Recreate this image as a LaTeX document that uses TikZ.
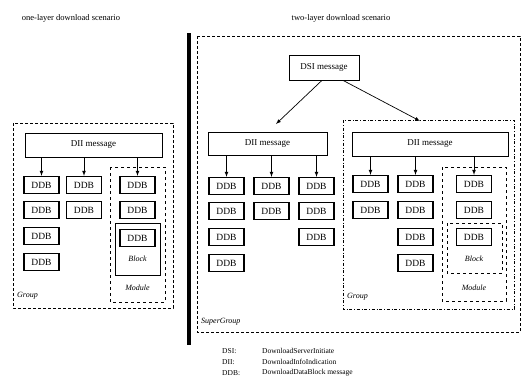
\documentclass[tikz,border=0pt]{standalone}
\usepackage{fontspec}
\setmainfont{Liberation Serif}
\usetikzlibrary{calc}

\begin{document}
\begin{tikzpicture}[x=1pt,y=-1pt,
    ddb/.style={draw,line width=1.3pt,minimum width=35pt,minimum height=17pt,inner sep=0pt,font=\fontsize{9.5}{10}\selectfont},
    msg/.style={draw,line width=0.9pt,inner sep=0pt,font=\fontsize{9}{10}\selectfont},
    tag/.style={inner sep=0pt,font=\fontsize{8}{9}\selectfont\itshape},
    legend/.style={inner sep=0pt,anchor=west,font=\fontsize{7.5}{8}\selectfont},
    title/.style={inner sep=0pt,font=\fontsize{8.5}{9}\selectfont},
    arr/.style={-latex,line width=0.7pt}]
    \useasboundingbox (0,0) rectangle (522,381);
    % titles and separator
    \node[title] (t1) at (71,18) {one-layer download scenario};
    \node[title] (t2) at (341,18) {two-layer download scenario};
    \fill[black] (187,33) rectangle (190.5,345);
    % one-layer scenario
    \draw[line width=0.5pt,densely dashed] (13,123) rectangle (173,308);
    \draw[line width=0.5pt,dashed] (110,167) rectangle (165,302);
    \draw[line width=0.5pt] (115,223) rectangle (160,275);
    \node[msg,minimum width=137pt,minimum height=24pt] (dii1) at (93.5,145) {DII message};
    \node[ddb] (a11) at (41.5,185) {DDB};
    \node[ddb] (a12) at (41.5,210) {DDB};
    \node[ddb] (a13) at (41.5,236) {DDB};
    \node[ddb] (a14) at (41.5,262) {DDB};
    \node[ddb] (a21) at (84,185) {DDB};
    \node[ddb] (a22) at (84,210) {DDB};
    \node[ddb] (a31) at (137.5,185) {DDB};
    \node[ddb] (a32) at (137.5,210) {DDB};
    \node[ddb] (a33) at (137.5,238) {DDB};
    \draw[arr] (dii1.south -| a11.north) -- (a11.north);
    \draw[arr] (dii1.south -| a21.north) -- (a21.north);
    \draw[arr] (dii1.south -| a31.north) -- (a31.north);
    \node[tag] (blk1) at (137.5,259) {Block};
    \node[tag] (mod1) at (137.5,288) {Module};
    \node[tag,anchor=west] (grp1) at (17,296) {Group};
    % two-layer scenario
    \draw[line width=0.5pt,densely dashed] (197,36) rectangle (520,332);
    \draw[line width=0.5pt,dash dot] (343,120) rectangle (514,309);
    \draw[line width=0.5pt,dashed] (442,167) rectangle (506,301);
    \draw[line width=0.5pt,dashed] (447,223) rectangle (502,273);
    \node[msg,minimum width=70pt,minimum height=25pt] (dsi) at (324,67.5) {DSI message};
    \node[msg,minimum width=119pt,minimum height=23pt] (dii2) at (267.5,143.5) {DII message};
    \node[msg,minimum width=156pt,minimum height=24pt] (dii3) at (430,144) {DII message};
    \coordinate (in2) at (276,124);
    \coordinate (in3) at (420,121);
    \draw[arr] ($(dsi.south west)!0.47!(dsi.south east)$) -- (in2);
    \draw[arr] ($(dsi.south west)!0.77!(dsi.south east)$) -- (in3);
    \node[ddb] (b11) at (226.5,186) {DDB};
    \node[ddb] (b12) at (226.5,211) {DDB};
    \node[ddb] (b13) at (226.5,237) {DDB};
    \node[ddb] (b14) at (226.5,263) {DDB};
    \node[ddb] (b21) at (271.5,186) {DDB};
    \node[ddb] (b22) at (271.5,211) {DDB};
    \node[ddb] (b31) at (316.5,186) {DDB};
    \node[ddb] (b32) at (316.5,211) {DDB};
    \node[ddb] (b33) at (316.5,237) {DDB};
    \draw[arr] (dii2.south -| b11.north) -- (b11.north);
    \draw[arr] (dii2.south -| b21.north) -- (b21.north);
    \draw[arr] (dii2.south -| b31.north) -- (b31.north);
    \node[ddb] (c11) at (370.5,184) {DDB};
    \node[ddb] (c12) at (370.5,210) {DDB};
    \node[ddb] (c21) at (415.5,184) {DDB};
    \node[ddb] (c22) at (415.5,210) {DDB};
    \node[ddb] (c23) at (415.5,237) {DDB};
    \node[ddb] (c24) at (415.5,263) {DDB};
    \node[ddb] (c31) at (474,184) {DDB};
    \node[ddb] (c32) at (474,210) {DDB};
    \node[ddb] (c33) at (474,237) {DDB};
    \draw[arr] (dii3.south -| c11.north) -- (c11.north);
    \draw[arr] (dii3.south -| c21.north) -- (c21.north);
    \draw[arr] (dii3.south -| c31.north) -- (c31.north);
    \node[tag] (blk2) at (474,259) {Block};
    \node[tag] (mod2) at (474,288) {Module};
    \node[tag,anchor=west] (grp2) at (347,297) {Group};
    \node[tag,anchor=west] (sgrp) at (201,322) {SuperGroup};
    % legend
    \node[legend] (k1) at (222,351) {DSI:};
    \node[legend] (k2) at (222,362) {DII:};
    \node[legend] (k3) at (222,373) {DDB:};
    \node[legend] (v1) at (262,351) {DownloadServerInitiate};
    \node[legend] (v2) at (262,362) {DownloadInfoIndication};
    \node[legend] (v3) at (262,373) {DownloadDataBlock message};
\end{tikzpicture}
\end{document}
